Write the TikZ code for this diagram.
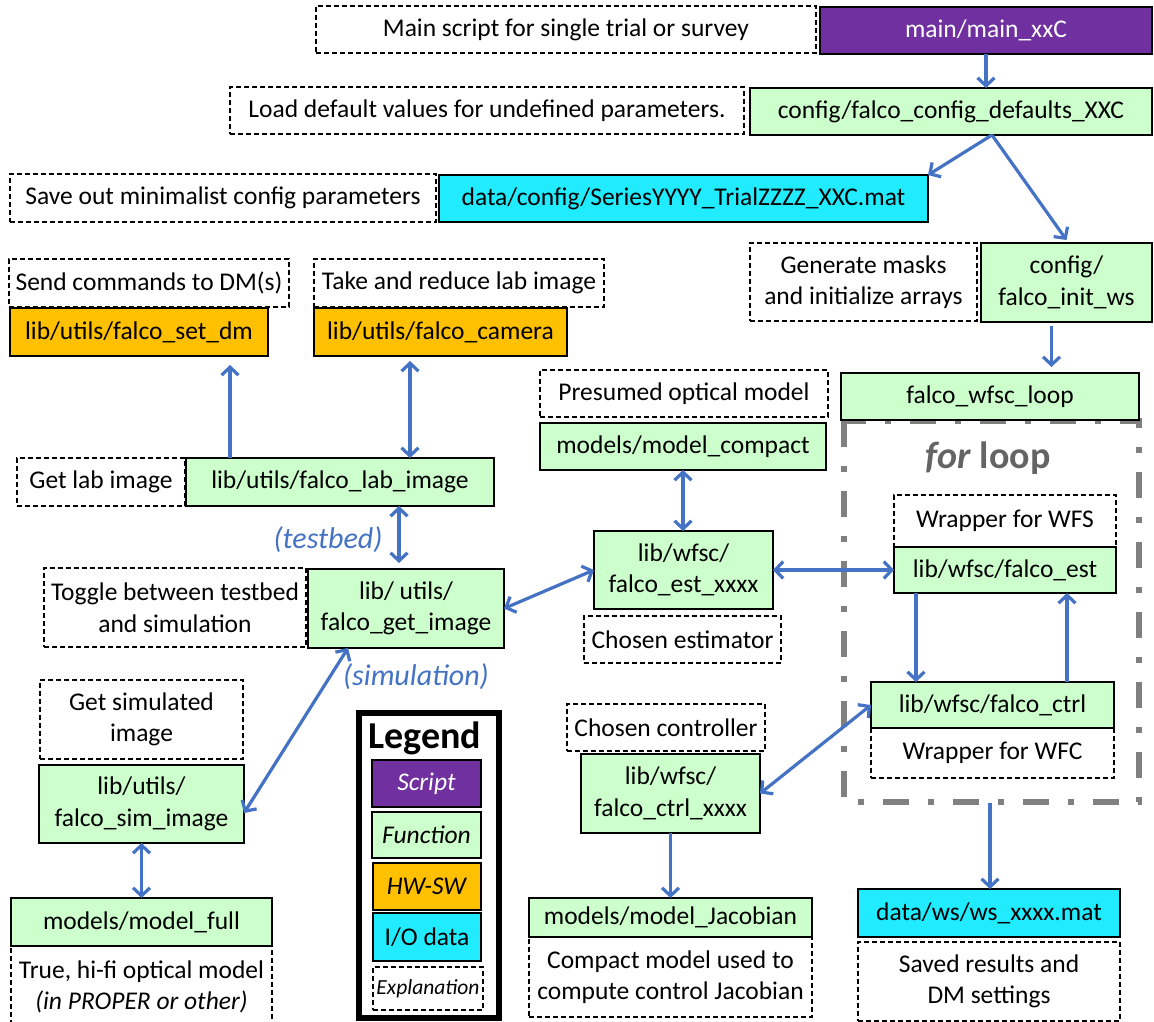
\documentclass[tikz,border=0pt]{standalone}
\usepackage{fontspec}
\setmainfont{Carlito}
\usetikzlibrary{arrows.meta,calc}
\definecolor{scriptc}{HTML}{7030A0}
\definecolor{funcc}{HTML}{CCFFCC}
\definecolor{hwc}{HTML}{FFC000}
\definecolor{ioc}{RGB}{33,235,255}
\definecolor{arrowc}{HTML}{4472C4}
\definecolor{grayc}{HTML}{808080}
\definecolor{graytxt}{HTML}{646464}
\newcommand\bx[7]{\node[#6, minimum width={(#4)-(#2)}, minimum height={(#5)-(#3)}] (#1) at ({((#2)+(#4))/2},{((#3)+(#5))/2}) {#7};}
\begin{document}
\begin{tikzpicture}[x=1pt,y=-1pt,
  base/.style={inner sep=0pt, outer sep=0pt, align=center, font=\fontsize{25.5}{31.5}\selectfont},
  solidbox/.style={base, draw=black, line width=1.4pt},
  fnbox/.style={solidbox, fill=funcc},
  scbox/.style={solidbox, fill=scriptc, text=white},
  hwbox/.style={solidbox, fill=hwc},
  iobox/.style={solidbox, fill=ioc},
  explbox/.style={base, draw=black, line width=1.2pt, dash pattern=on 5pt off 3pt},
  tipb/.tip={Straight Barb[length=8pt,width=17pt]},
  conn/.style={draw=arrowc, line width=3.2pt, -tipb},
  dconn/.style={draw=arrowc, line width=3.2pt, tipb-tipb},
  bluelbl/.style={text=arrowc, font=\fontsize{30}{34}\selectfont\itshape},
]
\useasboundingbox (0,0) rectangle (1154,1022);
\fill[white] (0,0) rectangle (1154,1022);

% for loop frame
\draw[grayc, line width=5.5pt, dash pattern=on 26pt off 19pt on 6pt off 19pt] (844,421) rectangle (1139,802);
\node[text=graytxt, font=\fontsize{38}{40}\selectfont\bfseries] (forlbl) at (988,458) {\textit{for} loop};

% top chain
\bx{dmain}{316}{6}{816}{53}{explbox}{Main script for single trial or survey}
\bx{main}{820}{7}{1152}{54}{scbox}{main/main\_xxC}
\bx{ddef}{230}{87}{744}{134}{explbox}{Load default values for undefined parameters.}
\bx{def}{750}{88}{1152}{135}{fnbox}{config/falco\_config\_defaults\_XXC}
\bx{dsave}{10}{174}{436}{222}{explbox}{Save out minimalist config parameters}
\bx{cfg}{439}{175}{928}{222}{iobox}{data/config/SeriesYYYY\_TrialZZZZ\_XXC.mat}
\bx{dgen}{750}{243}{977}{321}{explbox}{Generate masks\\and initialize arrays}
\bx{init}{981}{243}{1152}{322}{fnbox}{config/\\falco\_init\_ws}
\bx{loop}{841}{373}{1139}{420}{fnbox}{falco\_wfsc\_loop}

% loop contents
\bx{dwfs}{894}{495}{1116}{547}{explbox}{Wrapper for WFS}
\bx{est}{894}{547}{1116}{593}{fnbox}{lib/wfsc/falco\_est}
\bx{ctrl}{871}{682}{1114}{728}{fnbox}{lib/wfsc/falco\_ctrl}
\bx{dwfc}{871}{728}{1114}{778}{explbox}{Wrapper for WFC}

% middle column
\bx{dpres}{540}{370}{828}{417}{explbox}{Presumed optical model}
\bx{compact}{540}{423}{826}{470}{fnbox}{models/model\_compact}
\bx{estx}{594}{531}{773}{609}{fnbox}{lib/wfsc/\\falco\_est\_xxxx}
\bx{destx}{584}{616}{781}{663}{explbox}{Chosen estimator}
\bx{dctrlx}{567}{704}{765}{751}{explbox}{Chosen controller}
\bx{ctrlx}{581}{754}{760}{833}{fnbox}{lib/wfsc/\\falco\_ctrl\_xxxx}
\bx{jac}{529}{898}{812}{937}{fnbox}{models/model\_Jacobian}
\bx{djac}{529}{937}{812}{1017}{explbox}{Compact model used to\\compute control Jacobian}
\bx{ws}{858}{889}{1120}{937}{iobox}{data/ws/ws\_xxxx.mat}
\bx{dws}{858}{942}{1120}{1021}{explbox}{Saved results and\\DM settings}

% left side
\bx{ddm}{9}{259}{289}{307}{explbox}{Send commands to DM(s)}
\bx{setdm}{10}{308}{268}{356}{hwbox}{lib/utils/falco\_set\_dm}
\bx{dcam}{314}{259}{604}{307}{explbox}{Take and reduce lab image}
\bx{cam}{314}{308}{567}{356}{hwbox}{lib/utils/falco\_camera}
\bx{dlab}{17}{458}{185}{506}{explbox}{Get lab image}
\bx{lab}{186}{458}{494}{506}{fnbox}{lib/utils/falco\_lab\_image}
\bx{dtog}{44}{568}{306}{647}{explbox}{Toggle between testbed\\and simulation}
\bx{get}{308}{569}{504}{648}{fnbox}{lib/ utils/\\falco\_get\_image}
\bx{dsim}{40}{680}{243}{759}{explbox}{Get simulated\\image}
\bx{sim}{39}{765}{244}{843}{fnbox}{lib/utils/\\falco\_sim\_image}
\bx{full}{11}{898}{272}{946}{fnbox}{models/model\_full}
\bx{dfull}{11}{946}{272}{1030}{explbox}{}
\node[base] (dfulltxt) at (141.5,987) {True, hi-fi optical model\\\textit{(in PROPER or other)}};

\node[bluelbl] (tblbl) at (328,540) {(testbed)};
\node[bluelbl] (simlbl) at (416,677) {(simulation)};

% legend
\draw[black, line width=6pt] (359,713) rectangle (499,1018);
\node[font=\fontsize{38}{40}\selectfont\bfseries] (legtitle) at (425,738) {Legend};
\bx{legs}{372}{760}{481}{807}{scbox}{\textit{Script}}
\bx{legf}{372}{812}{481}{858}{fnbox}{\textit{Function}}
\bx{legh}{373}{863}{481}{910}{hwbox}{\textit{HW-SW}}
\bx{legi}{373}{913}{481}{961}{iobox}{I/O data}
\bx{lege}{373}{967}{483}{1010}{explbox, font=\fontsize{21.5}{24}\selectfont\itshape}{Explanation}

% connectors
\draw[conn] (main.south) -- (main.south |- def.north);
\draw[conn] ([xshift=41pt]def.south) -- (cfg.north east);
\draw[conn] ([xshift=41pt]def.south) -- ([yshift=3pt]init.north);
\draw[conn, shorten <=4pt, shorten >=6pt] ([xshift=-15pt]init.south) -- ([xshift=-15pt]init.south |- loop.north);
\draw[conn] ([yshift=-1pt]loop.south |- 0,802) -- (loop.south |- ws.north);
\draw[conn] ([xshift=22pt]est.south west) -- ([xshift=22pt]est.south west |- ctrl.north);
\draw[conn] ([xshift=196pt]ctrl.north west) -- ([xshift=196pt]ctrl.north west |- est.south);
\draw[dconn] (estx.east) -- (est.west);
\draw[dconn] (compact.south) -- (compact.south |- estx.north);
\draw[dconn] (get.east) -- (estx.west);
\draw[dconn] (ctrlx.east) -- (ctrl.west);
\draw[conn] (ctrlx.south) -- (ctrlx.south |- jac.north);
\draw[conn, shorten >=9pt] ([xshift=44pt]lab.north west) -- ([xshift=44pt]lab.north west |- setdm.south);
\draw[dconn, shorten >=5pt] ([xshift=224pt]lab.north west) -- ([xshift=224pt]lab.north west |- cam.south);
\draw[dconn, shorten >=6pt] ([xshift=213pt]lab.south west) -- ([xshift=213pt]lab.south west |- get.north);
\draw[dconn] ([xshift=40pt]get.south west) -- ([yshift=-9pt]sim.east);
\draw[dconn] (sim.south) -- (sim.south |- full.north);
\end{tikzpicture}
\end{document}
